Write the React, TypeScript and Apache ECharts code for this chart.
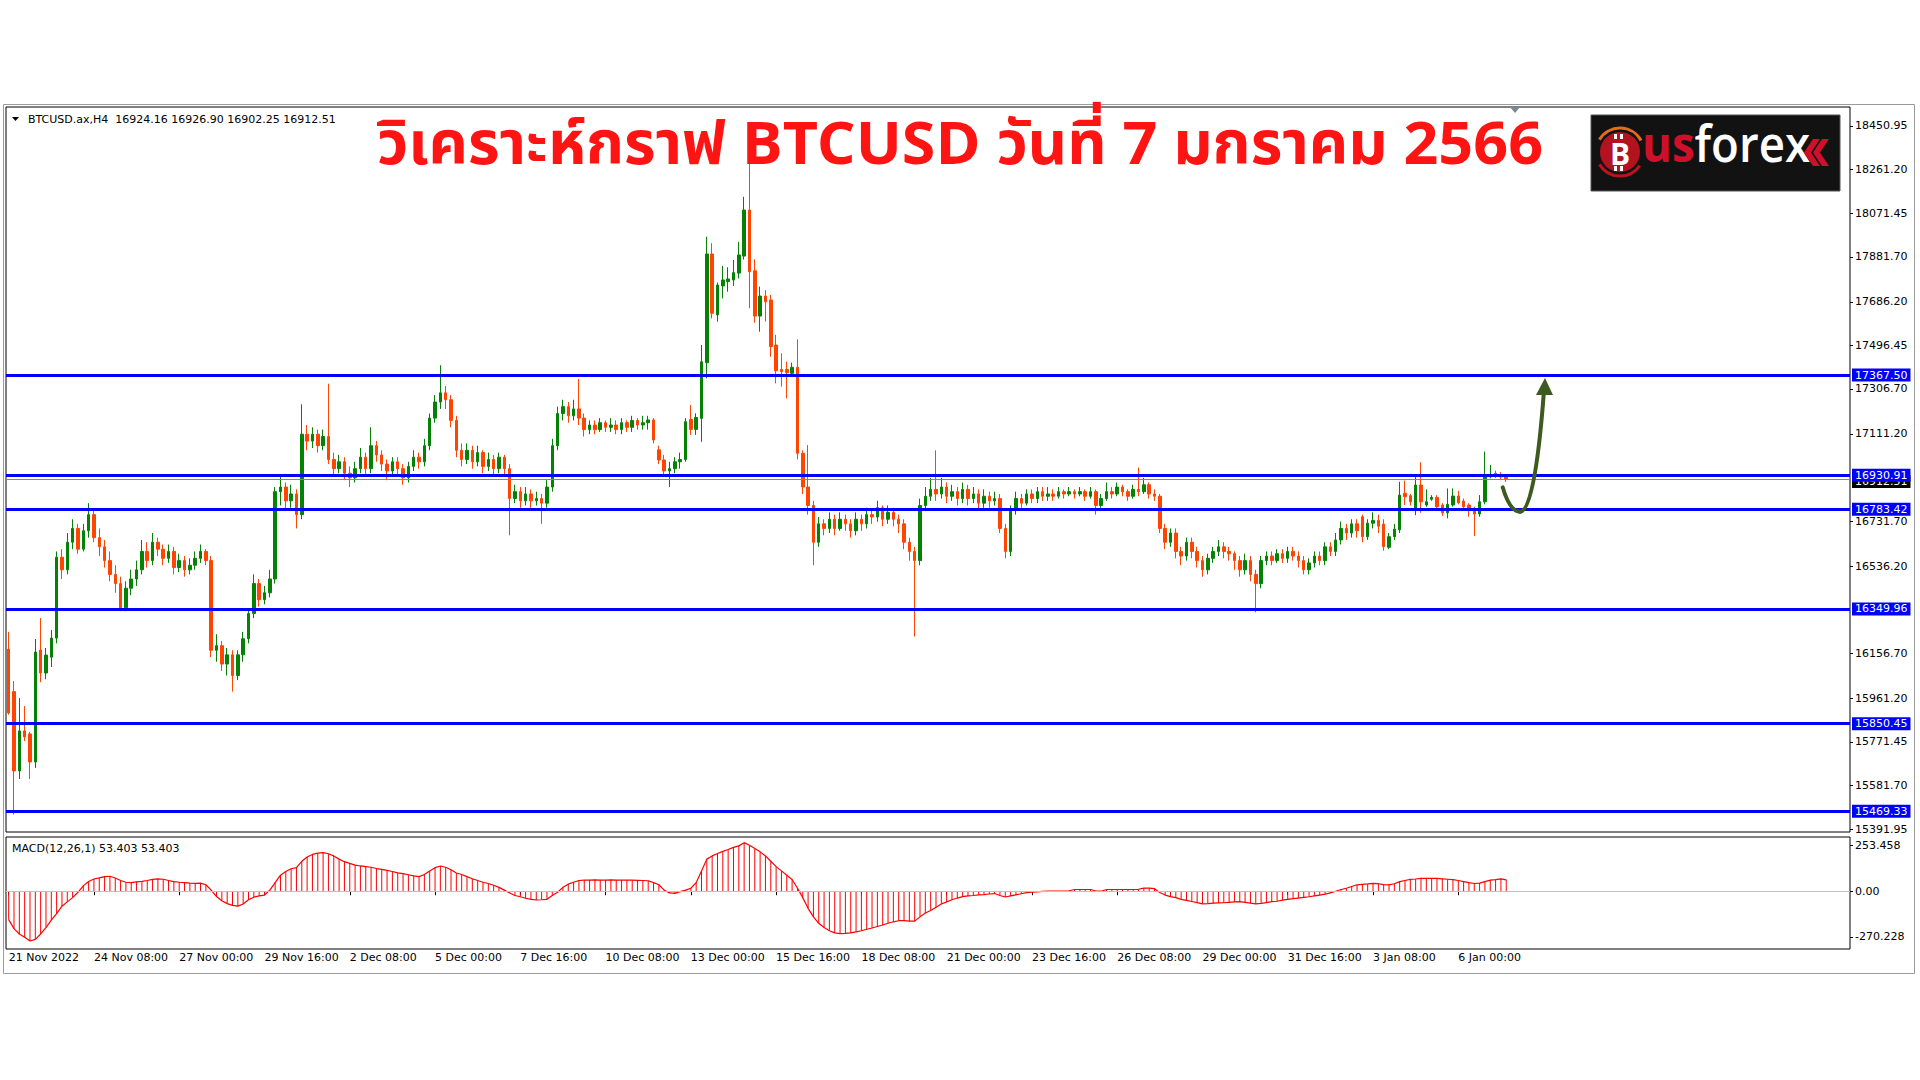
import React, { useEffect, useRef } from 'react';
import * as echarts from 'echarts';

// [open, close, low, high] per H4 bar, first bar 21 Nov 2022 16:00
const CANDLES: number[][] = [
  [16175,15897,15890,16250],[15990,15645,15455,16036],[15645,15819,15610,15962],[15819,15793,15775,15927],
  [15806,15684,15610,15815],[15684,16162,15658,16219],[16171,16071,16031,16310],[16071,16149,16044,16180],
  [16140,16223,16097,16258],[16223,16575,16200,16600],[16575,16520,16480,16610],[16520,16640,16500,16680],
  [16640,16700,16610,16740],[16700,16610,16590,16720],[16610,16690,16600,16720],[16690,16760,16660,16810],
  [16760,16660,16640,16780],[16660,16620,16580,16700],[16620,16560,16530,16650],[16560,16500,16470,16600],
  [16500,16460,16420,16540],[16460,16355,16340,16490],[16355,16440,16340,16470],[16440,16480,16410,16520],
  [16480,16520,16450,16560],[16520,16600,16500,16650],[16600,16560,16530,16640],[16560,16640,16540,16680],
  [16640,16610,16580,16660],[16610,16570,16540,16630],[16570,16600,16550,16630],[16600,16530,16500,16620],
  [16530,16560,16510,16590],[16560,16520,16490,16580],[16520,16540,16500,16570],[16540,16570,16520,16600],
  [16570,16600,16550,16630],[16600,16560,16540,16610],[16560,16170,16140,16580],[16170,16190,16120,16240],
  [16190,16110,16080,16210],[16110,16150,16060,16180],[16150,16060,15990,16170],[16060,16150,16040,16170],
  [16150,16220,16120,16250],[16220,16330,16200,16350],[16330,16460,16310,16500],[16460,16390,16360,16480],
  [16390,16420,16370,16450],[16420,16480,16400,16520],[16480,16860,16460,16880],[16860,16880,16800,16930],
  [16880,16820,16780,16900],[16820,16850,16790,16890],[16850,16760,16700,16870],[16760,17110,16740,17240],
  [17110,17080,17040,17150],[17080,17110,17050,17140],[17110,17060,17030,17130],[17060,17100,17040,17130],
  [17100,17000,16980,17330],[17000,16960,16930,17030],[16960,16990,16940,17020],[16990,16940,16910,17010],
  [16940,16920,16880,16970],[16920,16960,16900,16990],[16960,17010,16940,17050],[17010,16960,16930,17030],
  [16960,17060,16940,17140],[17060,17020,16990,17080],[17020,16980,16950,17040],[16980,16950,16910,17000],
  [16950,16990,16930,17010],[16990,16960,16930,17010],[16960,16920,16890,16980],[16920,16970,16900,16990],
  [16970,17010,16950,17040],[17010,16990,16960,17030],[16990,17060,16970,17090],[17060,17180,17040,17200],
  [17180,17250,17160,17280],[17250,17290,17220,17410],[17290,17260,17220,17320],[17260,17170,17140,17280],
  [17170,17040,17010,17190],[17040,17000,16970,17070],[17000,17040,16980,17070],[17040,16990,16960,17060],
  [16990,17030,16970,17060],[17030,16970,16940,17040],[16970,17000,16950,17030],[17000,16960,16930,17020],
  [16960,17010,16940,17030],[17010,16960,16930,17020],[16960,16830,16670,16980],[16830,16860,16810,16890],
  [16860,16820,16790,16880],[16820,16850,16800,16880],[16850,16820,16790,16870],[16820,16830,16800,16860],
  [16830,16810,16720,16850],[16810,16880,16790,16910],[16880,17060,16860,17090],[17060,17200,17040,17230],
  [17200,17230,17170,17260],[17230,17190,17160,17250],[17190,17220,17170,17260],[17220,17180,17150,17350],
  [17180,17130,17100,17200],[17130,17150,17110,17170],[17150,17130,17110,17170],[17130,17160,17120,17180],
  [17160,17140,17120,17170],[17140,17150,17120,17180],[17150,17130,17110,17170],[17130,17160,17110,17180],
  [17160,17140,17120,17170],[17140,17170,17120,17190],[17170,17150,17130,17180],[17150,17160,17130,17190],
  [17160,17172,17130,17190],[17172,17085,17070,17180],[17042,16998,16980,17060],[16998,16950,16930,17020],
  [16950,16960,16880,16990],[16960,16990,16940,17010],[16990,17000,16960,17030],[17000,17164,16990,17180],
  [17174,17131,17107,17237],[17131,17183,17107,17201],[17179,17425,17077,17498],[17421,17894,17353,17969],
  [17894,17636,17614,17941],[17629,17759,17600,17770],[17755,17781,17701,17842],[17774,17785,17730,17836],
  [17781,17813,17755,17868],[17811,17890,17788,17947],[17885,18085,17870,18143],[18085,17817,17658,18330],
  [17821,17624,17595,17871],[17624,17711,17556,17752],[17711,17686,17600,17737],[17694,17491,17447,17716],
  [17498,17386,17331,17542],[17392,17382,17317,17462],[17392,17378,17266,17426],[17375,17401,17360,17421],
  [17401,17027,17000,17523],[17027,16880,16850,17040],[16880,16800,16760,17063],[16800,16640,16540,16820],
  [16640,16720,16620,16750],[16720,16700,16670,16740],[16700,16740,16680,16770],[16740,16700,16670,16760],
  [16700,16740,16690,16770],[16740,16720,16690,16760],[16720,16690,16660,16740],[16690,16740,16670,16770],
  [16740,16720,16690,16760],[16720,16760,16700,16790],[16760,16750,16720,16780],[16750,16790,16730,16820],
  [16790,16740,16710,16800],[16740,16770,16720,16800],[16770,16740,16710,16790],[16740,16720,16680,16760],
  [16720,16640,16610,16740],[16640,16600,16560,16660],[16600,16560,16230,16620],[16560,16800,16540,16830],
  [16800,16840,16780,16880],[16840,16870,16820,16920],[16870,16850,16820,17040],[16850,16880,16830,16920],
  [16880,16840,16810,16900],[16840,16860,16820,16890],[16860,16830,16800,16880],[16830,16870,16810,16900],
  [16870,16830,16800,16890],[16830,16850,16810,16880],[16850,16810,16780,16870],[16810,16840,16790,16870],
  [16840,16820,16790,16860],[16820,16830,16800,16860],[16830,16700,16680,16850],[16700,16600,16570,16720],
  [16600,16780,16580,16800],[16780,16830,16760,16860],[16830,16810,16790,16850],[16810,16850,16800,16870],
  [16850,16830,16810,16870],[16830,16860,16810,16880],[16860,16840,16820,16880],[16840,16850,16820,16880],
  [16850,16840,16820,16870],[16840,16860,16830,16880],[16860,16850,16830,16870],[16850,16860,16840,16880],
  [16860,16850,16830,16870],[16850,16860,16840,16880],[16860,16840,16820,16870],[16840,16860,16830,16880],
  [16860,16800,16760,16870],[16800,16830,16790,16850],[16830,16860,16820,16900],[16860,16850,16830,16880],
  [16850,16880,16840,16900],[16880,16860,16840,16890],[16860,16840,16820,16870],[16840,16870,16830,16890],
  [16870,16860,16840,16965],[16860,16890,16850,16920],[16890,16850,16830,16900],[16850,16840,16820,16870],
  [16840,16700,16680,16850],[16700,16640,16610,16720],[16640,16680,16620,16700],[16680,16600,16570,16700],
  [16600,16580,16540,16620],[16580,16640,16560,16660],[16640,16600,16570,16660],[16600,16560,16530,16620],
  [16560,16520,16490,16580],[16520,16570,16500,16590],[16570,16600,16550,16620],[16600,16620,16580,16650],
  [16620,16600,16570,16640],[16600,16590,16560,16620],[16590,16560,16520,16600],[16560,16520,16490,16580],
  [16520,16560,16500,16590],[16560,16500,16470,16580],[16500,16460,16335,16520],[16460,16560,16440,16580],
  [16560,16580,16540,16600],[16580,16560,16540,16600],[16560,16590,16550,16610],[16590,16570,16550,16610],
  [16570,16600,16550,16620],[16600,16580,16560,16620],[16580,16560,16530,16600],[16560,16520,16500,16580],
  [16520,16550,16500,16570],[16550,16580,16530,16600],[16580,16560,16540,16600],[16560,16620,16540,16640],
  [16620,16600,16580,16640],[16600,16650,16580,16680],[16650,16700,16630,16730],[16700,16680,16650,16720],
  [16680,16720,16660,16740],[16720,16690,16660,16740],[16751,16664,16640,16760],[16664,16723,16650,16740],
  [16723,16735,16700,16770],[16735,16710,16680,16760],[16719,16621,16603,16740],[16618,16664,16610,16680],
  [16664,16697,16650,16720],[16694,16845,16680,16903],[16853,16838,16802,16908],[16842,16816,16800,16850],
  [16779,16889,16758,16925],[16889,16816,16768,16988],[16802,16816,16794,16870],[16827,16835,16820,16845],
  [16835,16794,16785,16845],[16802,16768,16755,16810],[16768,16805,16744,16874],[16802,16841,16795,16874],
  [16841,16812,16805,16864],[16819,16794,16785,16830],[16802,16787,16751,16810],[16787,16763,16667,16795],
  [16763,16816,16751,16845],[16816,16925,16805,17034],[16925,16932,16918,16976],[16940,16928,16920,16951],
  [16935,16924,16910,16945],[16924.16,16912.51,16902.25,16926.9]
];

const MACD: number[] = [
  -133,-175,-200,-215,-233,-225,-200,-170,-135,-105,-70,-50,-30,-5,25,45,57,62,68,70,
  62,50,42,40,44,46,50,55,58,56,50,45,42,40,38,37,38,30,5,-25,
  -45,-58,-66,-70,-60,-40,-28,-22,-18,5,40,75,92,105,110,140,160,172,178,180,
  175,165,150,138,130,122,118,115,112,106,102,97,92,86,82,77,72,68,78,95,
  110,118,112,100,85,78,68,58,50,42,36,28,18,5,-8,-20,-26,-33,-38,-41,
  -40,-38,-20,-5,18,33,42,50,52,52,53,52,52,53,52,52,52,52,51,50,
  49,40,30,5,-8,-10,-2,5,14,40,95,150,165,176,186,195,205,212,227,215,
  200,184,165,140,115,95,75,55,15,-30,-80,-120,-150,-170,-185,-195,-198,-197,-195,-190,
  -185,-178,-172,-165,-158,-150,-143,-138,-138,-140,-140,-120,-102,-90,-75,-60,-50,-40,-32,-25,
  -22,-20,-17,-16,-13,-11,-20,-27,-22,-17,-12,-7,-4,-3,-1,0,0,1,0,2,
  8,8,8,8,1,0,8,8,8,8,8,8,9,14,14,12,-6,-18,-25,-30,
  -38,-43,-48,-53,-59,-58,-56,-55,-54,-52,-50,-49,-52,-56,-59,-57,-53,-49,-47,-42,
  -38,-35,-32,-29,-26,-22,-18,-14,-8,0,8,14,22,30,32,34,37,35,31,30,
  35,45,50,55,57,60,60,60,60,58,56,54,50,45,40,36,38,45,52,54,
  58,53.403
];

const LEVELS = [17367.5, 16930.91, 16783.42, 16349.96, 15850.45, 15469.33];
const LAST_PRICE = 16912.51;
const PRICE_TICKS = [18450.95, 18261.2, 18071.45, 17881.7, 17686.2, 17496.45, 17306.7, 17111.2,
  16731.7, 16536.2, 16156.7, 15961.2, 15771.45, 15581.7, 15391.95];
const MACD_MAX = 253.458;
const MACD_MIN = -270.228;
const TIME_LABELS = ['21 Nov 2022', '24 Nov 08:00', '27 Nov 00:00', '29 Nov 16:00', '2 Dec 08:00',
  '5 Dec 00:00', '7 Dec 16:00', '10 Dec 08:00', '13 Dec 00:00', '15 Dec 16:00', '18 Dec 08:00',
  '21 Dec 00:00', '23 Dec 16:00', '26 Dec 08:00', '29 Dec 00:00', '31 Dec 16:00', '3 Jan 08:00', '6 Jan 00:00'];
const LABEL_STEP = 16;
const TOTAL_SLOTS = 346;
const HEADER = 'BTCUSD.ax,H4  16924.16 16926.90 16902.25 16912.51';
const MACD_TEXT = 'MACD(12,26,1) 53.403 53.403';
const TITLE = 'วิเคราะห์กราฟ BTCUSD วันที่ 7 มกราคม 2566';

const UI_FONT = '"DejaVu Sans", Tahoma, sans-serif';
const TITLE_FONT = '"Noto Sans Thai", Tahoma, Loma, Garuda, "DejaVu Sans", sans-serif';

function measure(text: string, font: string): number {
  const ctx = document.createElement('canvas').getContext('2d');
  if (!ctx) return text.length * 30;
  ctx.font = font;
  return ctx.measureText(text).width;
}

export default function App() {
  const ref = useRef<HTMLDivElement>(null);

  useEffect(() => {
    if (!ref.current) return;
    const chart = echarts.init(ref.current, null, { renderer: 'svg' });

    const categories = Array.from({ length: TOTAL_SLOTS }, (_, i) => String(i));
    const showLabel = (i: number) => i % LABEL_STEP === 0 && i / LABEL_STEP < TIME_LABELS.length;

    const titleW = measure(TITLE, `bold 60px ${TITLE_FONT}`);
    const titleScale = titleW > 0 ? 1166 / titleW : 1;
    const logoFont = '"Open Sans", "Noto Sans", sans-serif';
    const usW = measure('us', `bold 50px ${logoFont}`);
    const fxW = measure('forex', `600 50px ${logoFont}`);
    const logoScale = usW + fxW > 0 ? 168 / (usW + fxW) : 1;

    const levelLabel = (bg: string) => ({
      show: true,
      position: 'end',
      distance: 2,
      formatter: (p: any) => Number(p.value).toFixed(2),
      color: '#fff',
      backgroundColor: bg,
      padding: [1, 3, 0, 3],
      fontSize: 11,
      lineHeight: 12,
      fontFamily: UI_FONT,
    });

    const option: any = {
      animation: false,
      backgroundColor: '#fff',
      grid: [
        { left: 6, top: 107, width: 1844, height: 725, show: true, borderColor: '#000', borderWidth: 1, backgroundColor: 'transparent' },
        { left: 6, top: 837, width: 1844, height: 112, show: true, borderColor: '#000', borderWidth: 1, backgroundColor: 'transparent' },
      ],
      xAxis: [
        {
          type: 'category', gridIndex: 0, data: categories, boundaryGap: true,
          axisLine: { show: false }, axisTick: { show: false }, axisLabel: { show: false }, splitLine: { show: false },
        },
        {
          type: 'category', gridIndex: 1, data: categories, boundaryGap: true,
          axisLine: { show: false },
          axisTick: { show: true, alignWithLabel: true, interval: (i: number) => showLabel(i), length: 4, lineStyle: { color: '#000' } },
          axisLabel: {
            show: true,
            interval: (i: number) => showLabel(i),
            formatter: (_v: string, i: number) => (showLabel(i) ? TIME_LABELS[i / LABEL_STEP] : ''),
            align: 'left', margin: 3, color: '#000', fontSize: 11, fontFamily: UI_FONT,
          },
          splitLine: { show: false },
        },
      ],
      yAxis: [
        {
          type: 'value', gridIndex: 0, position: 'right', min: 15379.3, max: 18533.6, scale: true,
          axisLine: { show: false }, splitLine: { show: false },
          axisTick: { show: true, length: 3, customValues: PRICE_TICKS, lineStyle: { color: '#000' } },
          axisLabel: {
            show: true, customValues: PRICE_TICKS, margin: 5,
            formatter: (v: number) => v.toFixed(2), color: '#000', fontSize: 11, fontFamily: UI_FONT,
          },
        },
        {
          type: 'value', gridIndex: 1, position: 'right', min: MACD_MIN, max: MACD_MAX,
          axisLine: { show: false }, splitLine: { show: false },
          axisTick: { show: true, length: 3, customValues: [216, 0, -214], lineStyle: { color: '#000' } },
          axisLabel: {
            show: true, customValues: [216, 0, -214], margin: 5,
            formatter: (v: number) => (v > 100 ? MACD_MAX.toFixed(3) : v < -100 ? MACD_MIN.toFixed(3) : '0.00'),
            color: '#000', fontSize: 11, fontFamily: UI_FONT,
          },
        },
      ],
      series: [
        {
          type: 'candlestick', xAxisIndex: 0, yAxisIndex: 0, data: CANDLES, barWidth: 3,
          itemStyle: { color: '#058205', color0: '#ff4500', borderColor: '#058205', borderColor0: '#ff4500', borderWidth: 1 },
          markLine: {
            silent: true, symbol: ['none', 'none'], precision: 2, animation: false,
            data: [
              { yAxis: LAST_PRICE, lineStyle: { color: '#778899', width: 1, type: 'solid' }, label: { ...levelLabel('#000'), offset: [0, 2] } },
              ...LEVELS.map((v) => ({ yAxis: v, lineStyle: { color: '#0000ff', width: 3, type: 'solid' }, label: levelLabel('#0000ff') })),
            ],
          },
        },
        {
          type: 'bar', xAxisIndex: 1, yAxisIndex: 1, data: MACD, barWidth: 1,
          itemStyle: { color: '#ff0000' },
          markLine: {
            silent: true, symbol: ['none', 'none'], animation: false, label: { show: false },
            lineStyle: { color: '#c0c0c0', width: 1, type: 'solid' },
            data: [{ yAxis: 0 }],
          },
        },
        {
          type: 'line', xAxisIndex: 1, yAxisIndex: 1, data: MACD, symbol: 'none',
          lineStyle: { color: '#ff0000', width: 1.2 }, z: 3,
        },
      ],
      graphic: [
        { type: 'rect', z: 1, shape: { x: 3.5, y: 104.5, width: 1911, height: 869 }, style: { fill: 'none', stroke: '#9a9a9a', lineWidth: 1 } },
        { type: 'polygon', z: 60, shape: { points: [[12, 117], [19, 117], [15.5, 121]] }, style: { fill: '#000' } },
        { type: 'text', z: 60, x: 28, y: 119, style: { text: HEADER, fill: '#000', fontSize: 11, fontFamily: UI_FONT, verticalAlign: 'middle' } },
        { type: 'text', z: 60, x: 12, y: 848, style: { text: MACD_TEXT, fill: '#000', fontSize: 11, fontFamily: UI_FONT, verticalAlign: 'middle' } },
        { type: 'polygon', z: 60, shape: { points: [[1510, 107], [1520, 107], [1515, 113]] }, style: { fill: '#778899' } },
        // title
        {
          type: 'text', z: 80, x: 377, y: 146, scaleX: titleScale,
          style: { text: TITLE, fill: '#ff1414', fontSize: 60, fontWeight: 'bold', fontFamily: TITLE_FONT, verticalAlign: 'middle', align: 'left' },
        },
        // logo
        { type: 'rect', z: 80, shape: { x: 1591, y: 115, width: 249, height: 76 }, style: { fill: '#121212', stroke: '#555', lineWidth: 1 } },
        { type: 'arc', z: 81, shape: { cx: 1620, cy: 152, r: 24, startAngle: -2.6, endAngle: -0.5 }, style: { stroke: '#e46a1c', lineWidth: 3, fill: 'none' } },
        { type: 'arc', z: 81, shape: { cx: 1620, cy: 152, r: 24, startAngle: 0.6, endAngle: 2.6 }, style: { stroke: '#b8141f', lineWidth: 3, fill: 'none' } },
        { type: 'circle', z: 81, shape: { cx: 1620, cy: 152, r: 20 }, style: { fill: '#b3121f' } },
        { type: 'text', z: 82, x: 1620, y: 153, style: { text: 'B', fill: '#fff', fontSize: 30, fontWeight: 'bold', fontFamily: logoFont, align: 'center', verticalAlign: 'middle' } },
        { type: 'rect', z: 82, shape: { x: 1614, y: 134, width: 3, height: 5 }, style: { fill: '#fff' } },
        { type: 'rect', z: 82, shape: { x: 1620, y: 134, width: 3, height: 5 }, style: { fill: '#fff' } },
        { type: 'rect', z: 82, shape: { x: 1614, y: 166, width: 3, height: 5 }, style: { fill: '#fff' } },
        { type: 'rect', z: 82, shape: { x: 1620, y: 166, width: 3, height: 5 }, style: { fill: '#fff' } },
        { type: 'text', z: 82, x: 1642, y: 168, scaleX: logoScale, style: { text: 'us', fill: '#d0102a', fontSize: 50, fontWeight: 'bold', fontFamily: logoFont, verticalAlign: 'bottom' } },
        { type: 'text', z: 82, x: 1642 + usW * logoScale, y: 168, scaleX: logoScale, style: { text: 'forex', fill: '#ffffff', fontSize: 50, fontWeight: 600, fontFamily: logoFont, verticalAlign: 'bottom' } },
        { type: 'polygon', z: 82, shape: { points: [[1813, 139], [1820, 139], [1811, 152.5], [1820, 166], [1813, 166], [1804, 152.5]] }, style: { fill: '#d0102a' } },
        { type: 'polygon', z: 82, shape: { points: [[1822, 139], [1829, 139], [1820, 152.5], [1829, 166], [1822, 166], [1813, 152.5]] }, style: { fill: '#d0102a' } },
        // arrow
        {
          type: 'bezierCurve', z: 70,
          shape: { x1: 1502.7, y1: 487.3, cpx1: 1507, cpy1: 502, cpx2: 1513, cpy2: 511.7, x2: 1520, y2: 511.7 },
          style: { stroke: '#3d5a1f', lineWidth: 4, fill: 'none', lineCap: 'round' },
        },
        {
          type: 'bezierCurve', z: 70,
          shape: { x1: 1520, y1: 511.7, cpx1: 1530, cpy1: 511.7, cpx2: 1538, cpy2: 470, x2: 1543.8, y2: 393 },
          style: { stroke: '#3d5a1f', lineWidth: 4, fill: 'none', lineCap: 'round' },
        },
        { type: 'polygon', z: 70, shape: { points: [[1545, 378], [1536, 395], [1553, 395]] }, style: { fill: '#3d5a1f' } },
      ],
    };

    chart.setOption(option);
    return () => chart.dispose();
  }, []);

  return (
    <div
      ref={ref}
      style={{ position: 'absolute', left: 0, top: 0, width: 1920, height: 1080, background: '#fff' }}
    />
  );
}
